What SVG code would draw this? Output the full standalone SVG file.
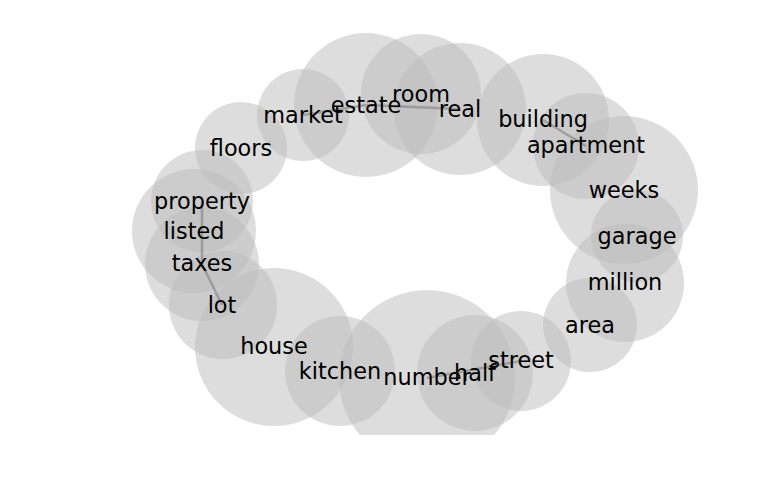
<svg xmlns="http://www.w3.org/2000/svg" width="768" height="500" viewBox="0 0 768 500">
<style>
.c{fill:#bbbbbb;fill-opacity:0.5}
.e{stroke:#808080;stroke-opacity:0.6;stroke-width:2.5;fill:none}
text{font-family:"DejaVu Sans",sans-serif;font-size:22.4px;fill:#000;text-anchor:middle}
</style>
<defs><clipPath id="ax"><rect x="0" y="0" width="768" height="435"/></clipPath></defs>
<rect width="768" height="500" fill="#fff"/>
<g clip-path="url(#ax)">
<g id="bubbles">
<circle class="c" cx="241" cy="148" r="46"/>
<circle class="c" cx="303" cy="115" r="46"/>
<circle class="c" cx="366" cy="105" r="72"/>
<circle class="c" cx="421" cy="94" r="60"/>
<circle class="c" cx="460" cy="109" r="66"/>
<circle class="c" cx="543" cy="120" r="66"/>
<circle class="c" cx="586" cy="146" r="53"/>
<circle class="c" cx="624" cy="190" r="74"/>
<circle class="c" cx="637" cy="236" r="46"/>
<circle class="c" cx="625" cy="283" r="59"/>
<circle class="c" cx="590" cy="325" r="47"/>
<circle class="c" cx="521" cy="361" r="50"/>
<circle class="c" cx="475" cy="373" r="58"/>
<circle class="c" cx="427" cy="378" r="88"/>
<circle class="c" cx="340" cy="371" r="55"/>
<circle class="c" cx="274" cy="347" r="79"/>
<circle class="c" cx="223" cy="305" r="54"/>
<circle class="c" cx="202" cy="264" r="57"/>
<circle class="c" cx="194" cy="231" r="62"/>
<circle class="c" cx="202" cy="201" r="51"/>
</g>
</g>
<g id="edges">
<line class="e" x1="202" y1="201" x2="202" y2="264"/>
<line class="e" x1="202" y1="264" x2="222" y2="305"/>
<line class="e" x1="303" y1="115" x2="366" y2="105"/>
<line class="e" x1="366" y1="105" x2="460" y2="109"/>
<line class="e" x1="543" y1="120" x2="586" y2="146"/>
<line class="e" x1="427" y1="378" x2="521" y2="361"/>
</g>
<g id="n-floors"><text x="241" y="155.5">floors</text></g>
<g id="n-market"><text x="303" y="122.5">market</text></g>
<g id="n-estate"><text x="366" y="112.5">estate</text></g>
<g id="n-room"><text x="421" y="101.5">room</text></g>
<g id="n-real"><text x="460" y="116.5">real</text></g>
<g id="n-building"><text x="543" y="127">building</text></g>
<g id="n-apartment"><text x="586" y="153">apartment</text></g>
<g id="n-weeks"><text x="624" y="197.5">weeks</text></g>
<g id="n-garage"><text x="637" y="243.5">garage</text></g>
<g id="n-million"><text x="625" y="290">million</text></g>
<g id="n-area"><text x="590" y="332.5">area</text></g>
<g id="n-street"><text x="521" y="368">street</text></g>
<g id="n-half"><text x="475" y="380.5">half</text></g>
<g id="n-number"><text x="427" y="385">number</text></g>
<g id="n-kitchen"><text x="340" y="378.5">kitchen</text></g>
<g id="n-house"><text x="274" y="354">house</text></g>
<g id="n-lot"><text x="222" y="312.5">lot</text></g>
<g id="n-taxes"><text x="202" y="271">taxes</text></g>
<g id="n-listed"><text x="194" y="238.5">listed</text></g>
<g id="n-property"><text x="202" y="208.5">property</text></g>
</svg>
